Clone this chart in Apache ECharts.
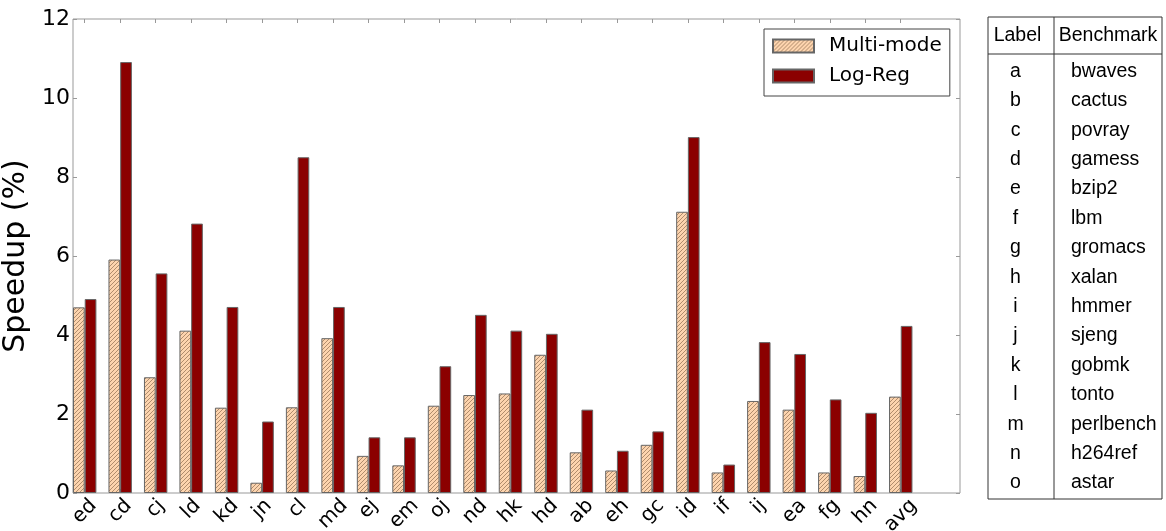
<!DOCTYPE html>
<html>
<head>
<meta charset="utf-8">
<title>Speedup per benchmark pair</title>
<script src="https://cdn.jsdelivr.net/npm/echarts@6/dist/echarts.min.js"></script>
<style>
  html, body { margin: 0; padding: 0; background: #fff; }
  #chart { width: 1166px; height: 531px; }
</style>
</head>
<body>
<div id="chart"></div>
<script>
// Benchmark pairs (letters refer to the lookup table on the right)
const categories = ['ed', 'cd', 'cj', 'ld', 'kd', 'jn', 'cl', 'md', 'ej', 'em', 'oj', 'nd',
  'hk', 'hd', 'ab', 'eh', 'gc', 'id', 'if', 'ij', 'ea', 'fg', 'hn', 'avg'];

// Speedup (%) of each scheme
const multiMode = [4.70, 5.91, 2.93, 4.11, 2.16, 0.26, 2.17, 3.92, 0.94, 0.70, 2.21, 2.48,
  2.52, 3.50, 1.03, 0.57, 1.22, 7.12, 0.52, 2.33, 2.11, 0.52, 0.43, 2.44];
const logReg = [4.91, 10.91, 5.56, 6.82, 4.71, 1.81, 8.50, 4.71, 1.41, 1.41, 3.21, 4.51,
  4.11, 4.03, 2.11, 1.07, 1.56, 9.01, 0.72, 3.82, 3.52, 2.37, 2.03, 4.23];

const seriesNames = ['Multi-mode', 'Log-Reg'];
const yTicks = [0, 2, 4, 6, 8, 10, 12];

// Lookup table: label letter -> benchmark name
const tableHeader = ['Label', 'Benchmark'];
const tableLabels = ['a', 'b', 'c', 'd', 'e', 'f', 'g', 'h', 'i', 'j', 'k', 'l', 'm', 'n', 'o'];
const tableBenchmarks = ['bwaves', 'cactus', 'povray', 'gamess', 'bzip2', 'lbm', 'gromacs',
  'xalan', 'hmmer', 'sjeng', 'gobmk', 'tonto', 'perlbench', 'h264ref', 'astar'];

// Diagonal "////" hatch tile for the Multi-mode bars
function makeHatch() {
  const size = 4;
  const c = document.createElement('canvas');
  c.width = size; c.height = size;
  const ctx = c.getContext('2d');
  const img = ctx.createImageData(size, size);
  const bg = [253, 212, 174];
  const fg = [176, 140, 108];
  for (let y = 0; y < size; y++) {
    for (let x = 0; x < size; x++) {
      const col = ((x + y) % size === size - 1) ? fg : bg;
      const i = (y * size + x) * 4;
      img.data[i] = col[0]; img.data[i + 1] = col[1]; img.data[i + 2] = col[2]; img.data[i + 3] = 255;
    }
  }
  ctx.putImageData(img, 0, 0);
  return c;
}

const FONT = 'DejaVu Sans';
const frameColor = '#999';

// Plot frame and bar-layer geometry
const plotLeft = 73, plotTop = 19, plotWidth = 887, plotHeight = 474;
const slotCount = categories.length + 1;              // one trailing empty slot
const slot = plotWidth / slotCount;
const barShift = slot * 0.17;                          // bar pairs start at the slot edge

const xCats = categories.concat(['']);
const tickInterval = (i) => i < categories.length;

// Lookup table drawn as graphic elements
function tableGraphics() {
  const tX = 988, tY = 17, tW = 174, tH = 482, tSplit = 1054, tHeadBottom = 54;
  const rowStart = 71.5, rowStep = 29.4;
  const tFont = '19.5px "Liberation Sans", Arial, sans-serif';
  const g = [];
  g.push({ type: 'rect', shape: { x: tX, y: tY, width: tW, height: tH },
    style: { fill: 'transparent', stroke: '#333', lineWidth: 1 } });
  g.push({ type: 'line', shape: { x1: tX, y1: tHeadBottom, x2: tX + tW, y2: tHeadBottom },
    style: { stroke: '#333', lineWidth: 1 } });
  g.push({ type: 'line', shape: { x1: tSplit, y1: tY, x2: tSplit, y2: tY + tH },
    style: { stroke: '#333', lineWidth: 1 } });
  g.push({ type: 'text', x: 1017.5, y: (tY + tHeadBottom) / 2,
    style: { text: tableHeader[0], font: tFont, fill: '#000', align: 'center', verticalAlign: 'middle' } });
  g.push({ type: 'text', x: (tSplit + tX + tW) / 2, y: (tY + tHeadBottom) / 2,
    style: { text: tableHeader[1], font: tFont, fill: '#000', align: 'center', verticalAlign: 'middle' } });
  tableLabels.forEach((lab, i) => {
    const y = rowStart + i * rowStep;
    g.push({ type: 'text', x: 1015.5, y: y,
      style: { text: lab, font: tFont, fill: '#000', align: 'center', verticalAlign: 'middle' } });
    g.push({ type: 'text', x: 1071, y: y,
      style: { text: tableBenchmarks[i], font: tFont, fill: '#000', align: 'left', verticalAlign: 'middle' } });
  });
  return g;
}

const chart = echarts.init(document.getElementById('chart'), null, { renderer: 'canvas' });

const tickStyle = { show: true, inside: true, length: 4, lineStyle: { color: frameColor, width: 1 } };

chart.setOption({
  animation: false,
  backgroundColor: '#fff',
  grid: [
    // frame with the value ticks
    { left: plotLeft, top: plotTop, width: plotWidth, height: plotHeight, outerBoundsMode: 'none',
      show: true, borderColor: frameColor, borderWidth: 1, backgroundColor: 'transparent' },
    // bars and category ticks
    { left: plotLeft - barShift, top: plotTop, width: plotWidth, height: plotHeight, outerBoundsMode: 'none' }
  ],
  legend: {
    orient: 'vertical',
    left: 764, top: 29,
    padding: [7, 8, 10, 8],
    itemGap: 10,
    itemWidth: 41, itemHeight: 13,
    icon: 'rect',
    borderColor: '#444', borderWidth: 1,
    backgroundColor: '#fff',
    data: seriesNames,
    textStyle: { fontFamily: FONT, fontSize: 20, color: '#000', lineHeight: 20, padding: [0, 0, 0, 10] }
  },
  xAxis: [
    { gridIndex: 0, type: 'value', min: 0, max: slotCount, show: false },
    { gridIndex: 1, type: 'category', data: xCats, position: 'bottom', boundaryGap: true,
      axisLine: { show: false },
      axisTick: Object.assign({}, tickStyle, { alignWithLabel: true, interval: tickInterval }),
      axisLabel: { show: false } },
    { gridIndex: 1, type: 'category', data: xCats, position: 'top', boundaryGap: true,
      axisLine: { show: false },
      axisTick: Object.assign({}, tickStyle, { alignWithLabel: true, interval: tickInterval }),
      axisLabel: { show: false } }
  ],
  yAxis: [
    { gridIndex: 0, type: 'value', min: yTicks[0], max: yTicks[yTicks.length - 1], interval: 2,
      position: 'left',
      name: 'Speedup (%)', nameLocation: 'middle', nameGap: 36,
      nameTextStyle: { fontFamily: FONT, fontSize: 30, color: '#000' },
      axisLine: { show: false }, splitLine: { show: false },
      axisTick: tickStyle,
      axisLabel: { fontFamily: FONT, fontSize: 22, color: '#000', margin: 3 } },
    { gridIndex: 0, type: 'value', min: yTicks[0], max: yTicks[yTicks.length - 1], interval: 2,
      position: 'right',
      axisLine: { show: false }, splitLine: { show: false },
      axisTick: tickStyle, axisLabel: { show: false } },
    { gridIndex: 1, type: 'value', min: yTicks[0], max: yTicks[yTicks.length - 1], interval: 2,
      show: false }
  ],
  series: [
    { name: seriesNames[0], type: 'bar', xAxisIndex: 1, yAxisIndex: 2,
      data: multiMode, barWidth: '33%', barGap: '0%',
      itemStyle: { color: { image: makeHatch(), repeat: 'repeat' }, borderColor: '#666', borderWidth: 1 } },
    { name: seriesNames[1], type: 'bar', xAxisIndex: 1, yAxisIndex: 2,
      data: logReg, barWidth: '33%', barGap: '0%',
      itemStyle: { color: '#8B0000', borderColor: '#666', borderWidth: 1 } }
  ]
});

// Slanted category labels, each centred under its tick (position taken from the category axis)
const labelFont = '20px "DejaVu Sans"';
const measureCtx = document.createElement('canvas').getContext('2d');
measureCtx.font = labelFont;
const axisY = chart.convertToPixel({ yAxisIndex: 2 }, 0);
const labelGraphics = categories.map((cat) => {
  const x = chart.convertToPixel({ xAxisIndex: 1 }, cat);
  const w = measureCtx.measureText(cat).width;
  const halfDrop = Math.SQRT1_2 * (w + 16) / 2;       // half height of the slanted text box
  return {
    type: 'text', x: x, y: axisY + 4 + halfDrop, rotation: Math.PI / 4,
    style: { text: cat, font: labelFont, fill: '#000', align: 'center', verticalAlign: 'middle' }
  };
});

chart.setOption({ graphic: tableGraphics().concat(labelGraphics) });
</script>
</body>
</html>
